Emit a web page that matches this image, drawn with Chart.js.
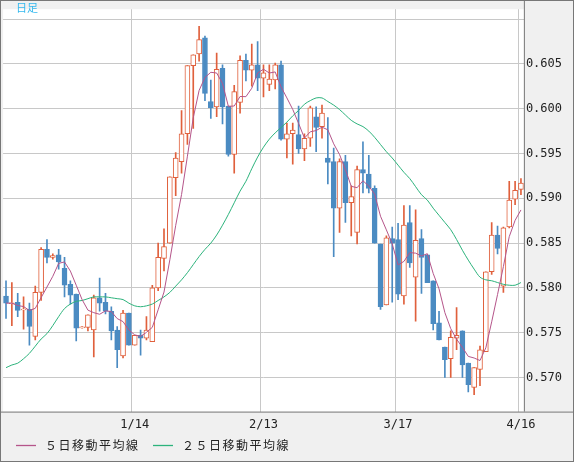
<!DOCTYPE html>
<html><head><meta charset="utf-8">
<script src="https://cdn.jsdelivr.net/npm/chart.js@4.4.1/dist/chart.umd.min.js"></script>
<style>html,body{margin:0;padding:0;background:#f0f0f0}#w{width:574px;height:462px}</style>
</head><body><div id="w"><canvas id="c"></canvas></div>
<script>
const opens=[.5791,.5783,.5784,.5776,.5776,.5746,.5795,.5843,.5834,.5837,.5822,.5804,.5793,.5756,.5756,.5753,.5789,.5784,.5774,.5753,.5724,.5772,.5736,.5747,.5744,.5740,.5800,.5833,.5850,.5923,.5941,.5972,.6048,.6061,.6079,.6008,.6002,.6045,.6003,.5949,.6007,.6054,.6043,.6049,.6034,.6027,.6032,.6049,.5966,.5972,.5971,.5955,.5967,.5991,.5980,.5945,.5941,.5889,.5941,.5895,.5862,.5932,.5927,.5911,.5849,.5781,.5855,.5854,.5791,.5873,.5812,.5855,.5837,.5808,.5761,.5734,.5721,.5744,.5752,.5716,.5689,.5709,.5729,.5818,.5859,.5802,.5868,.5899,.5910];
const highs=[.5808,.5806,.5794,.5790,.5783,.5802,.5845,.5854,.5838,.5843,.5834,.5808,.5793,.5757,.5770,.5792,.5811,.5794,.5779,.5757,.5775,.5772,.5747,.5753,.5768,.5803,.5850,.5866,.5924,.5951,.5998,.6048,.6060,.6092,.6081,.6032,.6062,.6049,.6003,.6026,.6059,.6061,.6072,.6075,.6049,.6049,.6051,.6053,.5984,.5984,.6003,.5972,.6003,.6002,.6004,.5990,.5956,.5944,.5948,.5914,.5936,.5963,.5948,.5914,.5849,.5858,.5868,.5872,.5892,.5892,.5887,.5865,.5837,.5808,.5774,.5734,.5752,.5778,.5752,.5716,.5711,.5735,.5818,.5873,.5869,.5868,.5919,.5919,.5922];
const lows=[.5766,.5758,.5768,.5754,.5736,.5742,.5786,.5828,.5832,.5821,.5790,.5782,.5741,.5755,.5752,.5723,.5774,.5771,.5742,.5711,.5722,.5736,.5736,.5725,.5742,.5740,.5797,.5819,.5850,.5903,.5928,.5960,.5978,.6053,.6009,.5989,.5991,.5983,.5947,.5928,.5995,.6031,.6025,.6020,.6013,.6020,.6022,.5965,.5945,.5938,.5950,.5942,.5958,.5952,.5967,.5916,.5835,.5862,.5873,.5858,.5849,.5906,.5906,.5850,.5776,.5781,.5784,.5787,.5782,.5823,.5763,.5794,.5806,.5753,.5742,.5700,.5700,.5731,.5700,.5684,.5681,.5691,.5729,.5815,.5838,.5795,.5867,.5893,.5904];
const closes=[.5783,.5783,.5775,.5776,.5757,.5795,.5843,.5834,.5836,.5829,.5803,.5792,.5755,.5756,.5770,.5789,.5783,.5774,.5752,.5731,.5772,.5736,.5747,.5744,.5753,.5800,.5834,.5846,.5924,.5945,.5972,.6048,.6060,.6077,.6017,.6001,.6044,.6002,.5949,.6019,.6054,.6043,.6049,.6034,.6040,.6033,.6049,.5966,.5972,.5976,.5955,.5967,.6001,.5979,.5995,.5940,.5889,.5941,.5895,.5902,.5932,.5928,.5911,.5850,.5779,.5856,.5850,.5793,.5870,.5828,.5853,.5834,.5806,.5760,.5742,.5720,.5745,.5747,.5714,.5692,.5711,.5731,.5818,.5859,.5844,.5867,.5898,.5909,.5917];
const ma25=[.5711,.5714,.5716,.5721,.5727,.5735,.5743,.5749,.5758,.5768,.5777,.5782,.5785,.5786,.5788,.5790,.5790,.5790,.5789,.5788,.5787,.5783,.5780,.5779,.5780,.5782,.5786,.5790,.5795,.5802,.5809,
.5817,.5826,.5835,.5843,.5850,.5859,.5870,.5882,.5895,.5908,.5919,.5933,.5946,.5957,.5966,.5973,.5979,.5985,.5992,.5998,.6005,.6009,.6012,.6012,.6008,
.6004,.5999,.5993,.5987,.5983,.5980,.5975,.5968,.5960,.5952,.5945,.5937,.5929,.5922,.5913,.5904,
.5898,.5889,.5881,.5873,.5865,.5854,.5842,.5831,.5821,.5812,.5809,.5808,.5806,.5804,.5803,.5803,.5806];
const tickIdx=[22,44,67,88];
const tickText=['1/14','2/13','3/17','4/16'];
const yTicks=[.570,.575,.580,.585,.590,.595,.600,.605,.610];
const legendNames=['５日移動平均線','２５日移動平均線'];

const UP='#e0603c',DN='#4b8bc2';
const labels=closes.map((_,i)=>i);
const ma5=closes.map((_,i)=>{const s=closes.slice(Math.max(0,i-4),i+1);return s.reduce((a,b)=>a+b,0)/s.length;});
const bodies=opens.map((o,i)=>{let a=Math.min(o,closes[i]),b=Math.max(o,closes[i]);if(b-a<0.0001){a-=0.00005;b+=0.00005;}return [a,b];});
const wicks=opens.map((o,i)=>[lows[i],highs[i]]);
const up=opens.map((o,i)=>closes[i]>=o);

const bg={id:'bg',beforeDraw(ch){const c=ch.ctx,a=ch.chartArea;c.save();c.fillStyle='#f0f0f0';c.fillRect(0,0,ch.width,ch.height);c.fillStyle='#fff';c.fillRect(a.left,a.top,a.right-a.left,a.bottom-a.top);c.restore();},
afterDraw(ch){const c=ch.ctx,a=ch.chartArea;c.save();c.strokeStyle='#777';c.lineWidth=1;c.strokeRect(0.5,0.5,ch.width-1,ch.height-1);
c.beginPath();c.moveTo(a.right+0.5,0);c.lineTo(a.right+0.5,a.bottom);c.moveTo(0,a.bottom+0.5);c.lineTo(ch.width,a.bottom+0.5);c.stroke();
c.fillStyle='#33b8ee';c.font='11px "Noto Sans CJK JP"';c.textBaseline='top';c.fillText('日足',16,2);
const xs=[[16,45],[153,182]];
c.font='12px "Noto Sans CJK JP"';c.textBaseline='middle';c.letterSpacing='1.5px';
[0,1].forEach(k=>{const ds=ch.data.datasets[k];c.strokeStyle=ds.borderColor;c.lineWidth=1.3;c.beginPath();c.moveTo(xs[k][0],445.5);c.lineTo(xs[k][0]+20,445.5);c.stroke();
c.fillStyle='#222';c.fillText(ds.label,xs[k][1],445);});
c.restore();}};

new Chart(document.getElementById('c'),{
data:{labels,datasets:[
{type:'line',label:legendNames[0],data:ma5,borderColor:'#b5558a',borderWidth:1,pointRadius:0,tension:0,order:0},
{type:'line',label:legendNames[1],data:ma25,borderColor:'#2cb37c',borderWidth:1,pointRadius:0,tension:0.3,order:1},
{type:'bar',label:'body',data:bodies,backgroundColor:up.map(u=>u?'#fff':DN),borderColor:up.map(u=>u?UP:DN),borderWidth:1,borderSkipped:false,barThickness:5,grouped:false,order:2},
{type:'bar',label:'wick',data:wicks,backgroundColor:up.map(u=>u?UP:DN),borderWidth:0,barThickness:1,grouped:false,order:3}
]},
options:{responsive:true,maintainAspectRatio:false,animation:false,
layout:{padding:{left:1,top:0,right:10,bottom:24}},
plugins:{tooltip:{enabled:false},legend:{display:false}},
scales:{
x:{type:'category',offset:true,grid:{drawTicks:false,color:c=>tickIdx.includes(c.index)?'#c8c8c8':'rgba(0,0,0,0)'},border:{display:false},
ticks:{autoSkip:false,maxRotation:0,padding:6,color:'#222',font:{family:'DejaVu Sans Mono',size:12},callback:(v,i)=>{const k=tickIdx.indexOf(i);return k<0?'':tickText[k];}}},
y:{position:'right',min:.5662,max:.6111,afterBuildTicks:s=>{s.ticks=yTicks.map(v=>({value:v}));},
grid:{drawTicks:false,color:'#c8c8c8'},border:{display:false},
ticks:{padding:2,color:'#222',font:{family:'DejaVu Sans Mono',size:12},callback:v=>v>0.6095?'':v.toFixed(3)}}
}},
plugins:[bg]});
</script></body></html>
